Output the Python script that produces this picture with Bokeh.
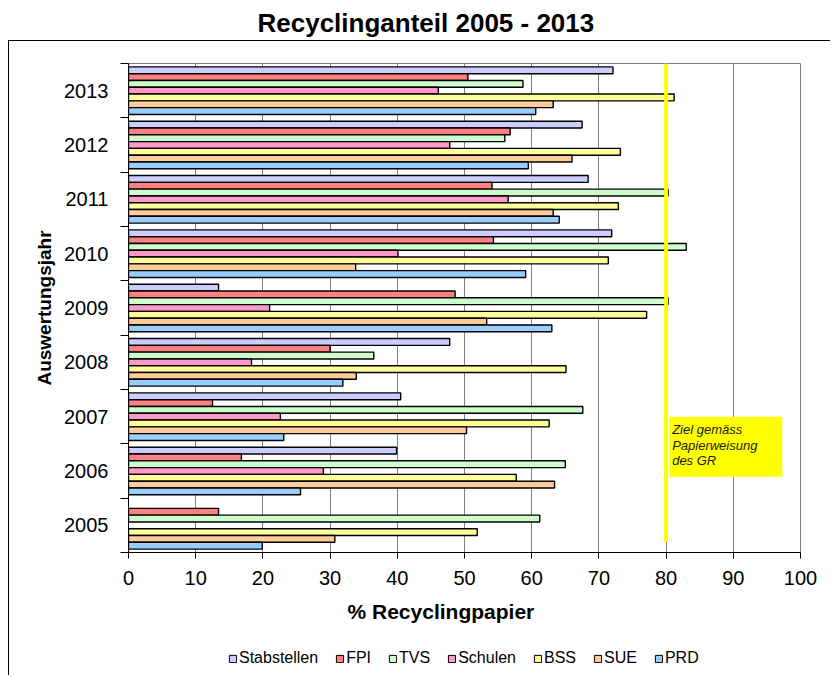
from bokeh.plotting import figure
from bokeh.layouts import column
from bokeh.models import (FixedTicker, Legend, LegendItem, BoxAnnotation, Label,
                          ColumnDataSource, Range1d, Title)
from bokeh.transform import dodge
from bokeh.embed import file_html
from bokeh.resources import INLINE

nan = float("nan")

years = [2005, 2006, 2007, 2008, 2009, 2010, 2011, 2012, 2013]
year_labels = [str(y) for y in years]
series = ["Stabstellen", "FPI", "TVS", "Schulen", "BSS", "SUE", "PRD"]
colors = ["#CCCCFF", "#FF8080", "#CCFFCC", "#FF99CC", "#FFFF99", "#FFCC99", "#99CCFF"]

stabstellen = [nan, 39.9, 40.5, 47.8, 13.4, 71.9, 68.4, 67.5, 72.1]
fpi = [13.4, 16.8, 12.5, 30.0, 48.6, 54.3, 54.1, 56.8, 50.5]
tvs = [61.2, 65.0, 67.6, 36.5, 80.3, 83.0, 80.3, 56.0, 58.7]
schulen = [nan, 29.0, 22.6, 18.3, 21.0, 40.1, 56.5, 47.8, 46.1]
bss = [51.9, 57.7, 62.6, 65.1, 77.1, 71.4, 72.9, 73.2, 81.2]
sue = [30.7, 63.4, 50.3, 33.9, 53.3, 33.8, 63.2, 66.0, 63.2]
prd = [19.9, 25.6, 23.1, 31.9, 63.0, 59.1, 64.1, 59.5, 60.6]

x_ticks = list(range(0, 101, 10))
ziel = 80
ziel_text = ["Ziel gemäss", "Papierweisung", "des GR"]

title_text = "Recyclinganteil 2005 - 2013"
x_label = "% Recyclingpapier"
y_label = "Auswertungsjahr"

FONT = "Liberation Sans"

src = ColumnDataSource(dict(year=years, Stabstellen=stabstellen, FPI=fpi, TVS=tvs,
                            Schulen=schulen, BSS=bss, SUE=sue, PRD=prd))

p = figure(width=830, height=640, output_backend="svg", toolbar_location=None,
           x_range=Range1d(0, 100), y_range=Range1d(years[0] - 0.5, years[-1] + 0.5),
           min_border_left=128, min_border_right=30, min_border_top=62,
           min_border_bottom=88, title=None)

p.background_fill_color = "white"
p.border_fill_color = None
p.outline_line_color = "#808080"
p.outline_line_width = 1
# chart-area frame (left and top edge) drawn behind the transparent canvas border
p.styles = {
    "background": "linear-gradient(#000, #000) 8px 40px / 1px calc(100% - 40px) no-repeat, "
                  "linear-gradient(#000, #000) 8px 40px / calc(100% - 8px) 1px no-repeat, #ffffff"
}

# grid
p.ygrid.grid_line_color = None
p.xgrid.grid_line_color = "#808080"
p.xgrid.grid_line_width = 1
p.xgrid.ticker = FixedTicker(ticks=x_ticks)

# x axis (its label is set as a title below the axis, so that it can sit left of centre)
p.xaxis.ticker = FixedTicker(ticks=x_ticks)
p.xaxis.major_label_text_font = FONT
p.xaxis.major_label_text_font_size = "20px"
p.xaxis.major_label_text_color = "black"
p.xaxis.major_label_standoff = 12
p.xaxis.axis_line_color = "black"
p.xaxis.major_tick_line_color = "black"
p.xaxis.major_tick_in = 0
p.xaxis.major_tick_out = 6
p.xaxis.minor_tick_line_color = None
p.add_layout(Title(text=x_label, align="left", offset=219, standoff=20, text_font=FONT,
                   text_font_style="bold", text_font_size="21px",
                   text_color="black"), "below")

# y axis
bounds = [y - 0.5 for y in years] + [years[-1] + 0.5]
p.yaxis.ticker = FixedTicker(ticks=years, minor_ticks=bounds)
p.yaxis.major_label_overrides = {y: s for y, s in zip(years, year_labels)}
p.yaxis.axis_label = y_label
p.yaxis.axis_label_text_font = FONT
p.yaxis.axis_label_text_font_style = "bold"
p.yaxis.axis_label_text_font_size = "19px"
p.yaxis.axis_label_text_color = "black"
p.yaxis.axis_label_standoff = 6
p.yaxis.major_label_text_font = FONT
p.yaxis.major_label_text_font_size = "20px"
p.yaxis.major_label_text_color = "black"
p.yaxis.major_label_standoff = 12
p.yaxis.axis_line_color = "black"
p.yaxis.major_tick_line_color = None
p.yaxis.minor_tick_line_color = "black"
p.yaxis.minor_tick_in = 0
p.yaxis.minor_tick_out = 8

# bars
n = len(series)
bar_h = 1.0 / (n + 1)
for i, (name, col) in enumerate(zip(series, colors)):
    offset = ((n - 1) / 2 - i) * bar_h
    p.hbar(y=dodge("year", offset, range=p.y_range), left=0, right=name,
           height=bar_h, source=src, fill_color=col, line_color="black",
           line_width=1.4)

# target line
p.segment(x0=[ziel], x1=[ziel], y0=[years[0] - 0.30], y1=[years[-1] + 0.5],
          line_color="#FFFF00", line_width=4)

# annotation box
p.add_layout(BoxAnnotation(left=ziel + 0.5, right=ziel + 17.3,
                           bottom=years[0] + 0.895, top=years[0] + 1.997,
                           fill_color="#FFFF00", fill_alpha=1.0, line_color=None,
                           level="overlay"))
for k, t in enumerate(ziel_text):
    p.add_layout(Label(x=ziel + 0.9, y=years[0] + 1.76 - k * 0.285, text=t,
                       text_font=FONT, text_font_style="italic",
                       text_font_size="13px", text_color="#1a1a1a",
                       text_baseline="middle", level="overlay"))

# title: a blank spacer title next to the frame, the real title above it
p.add_layout(Title(text=" ", text_font_size="8px"), "above")
p.add_layout(Title(text=title_text, align="left", offset=129, text_font=FONT,
                   text_font_style="bold", text_font_size="26px",
                   text_color="black"), "above")

# legend strip below the chart (proxy bars outside the visible range carry the colours)
lf = figure(width=830, height=35, output_backend="svg", toolbar_location=None,
            x_range=Range1d(0, 1), y_range=Range1d(0, 1),
            x_axis_type=None, y_axis_type=None, min_border=0, title=None)
lf.grid.visible = False
lf.outline_line_color = None
lf.background_fill_color = None
lf.border_fill_color = None
lf.styles = {
    "background": "linear-gradient(#000, #000) 8px 0px / 1px 100% no-repeat, #ffffff"
}
items = []
for name, col in zip(series, colors):
    r = lf.hbar(y=[-5], left=[0], right=[1], height=0.5, fill_color=col,
                line_color="black", line_width=1)
    items.append(LegendItem(label=name, renderers=[r]))
legend = Legend(items=items, orientation="horizontal", location=(100, 8),
                label_text_font=FONT, label_text_font_size="16px",
                label_text_color="black",
                glyph_width=9, glyph_height=9, label_standoff=2, spacing=17,
                border_line_color=None, background_fill_alpha=0,
                margin=0, padding=2)
lf.add_layout(legend)

layout = column(p, lf, spacing=0)

open("out.html", "w").write(file_html(layout, INLINE))
